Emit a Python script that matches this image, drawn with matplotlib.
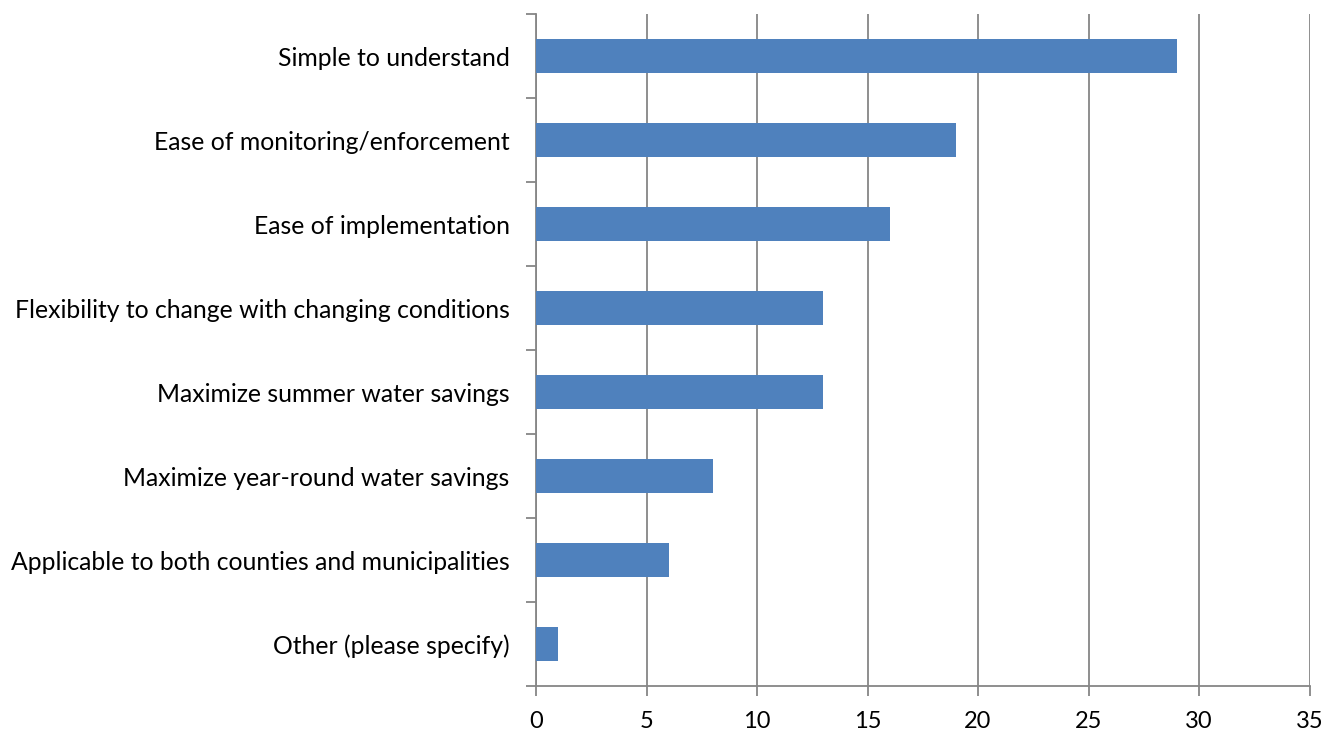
import matplotlib
matplotlib.use("Agg")
import matplotlib.pyplot as plt
import numpy as np

categories = [
    "Simple to understand",
    "Ease of monitoring/enforcement",
    "Ease of implementation",
    "Flexibility to change with changing conditions",
    "Maximize summer water savings",
    "Maximize year-round water savings",
    "Applicable to both counties and municipalities",
    "Other (please specify)",
]
values = [29, 19, 16, 13, 13, 8, 6, 1]
xticks = [0, 5, 10, 15, 20, 25, 30, 35]

plt.rcParams['font.family'] = ['Lato', 'DejaVu Sans']

fig = plt.figure(figsize=(13.27, 7.33), dpi=100)
ax = fig.add_axes([536/1327, 1-686/733, (1309.5-536)/1327, (686-14)/733])

n = len(categories)
pos = np.arange(n)
ax.barh(pos, values, height=0.4, color='#4F81BD', zorder=3)
ax.set_ylim(n-0.5, -0.5)
ax.set_xlim(0, 35)

grid_c = '#868686'
ax.set_xticks(xticks)
ax.set_xticklabels([str(t) for t in xticks], fontsize=17)
ax.xaxis.grid(True, color=grid_c, linewidth=1.3, zorder=0)

ax.set_yticks(pos)
ax.set_yticklabels(categories, fontsize=17.8)
ax.tick_params(axis='y', length=0, pad=19)
ax.set_yticks(np.arange(-0.5, n+0.5, 1), minor=True)
ax.tick_params(axis='y', which='minor', length=7, width=1.3, color=grid_c)
ax.tick_params(axis='x', length=7, width=1.3, color=grid_c, pad=11)

for s in ['top', 'right']:
    ax.spines[s].set_visible(False)
for s in ['left', 'bottom']:
    ax.spines[s].set_color(grid_c)
    ax.spines[s].set_linewidth(1.3)

fig.savefig('out.png', dpi=100)
